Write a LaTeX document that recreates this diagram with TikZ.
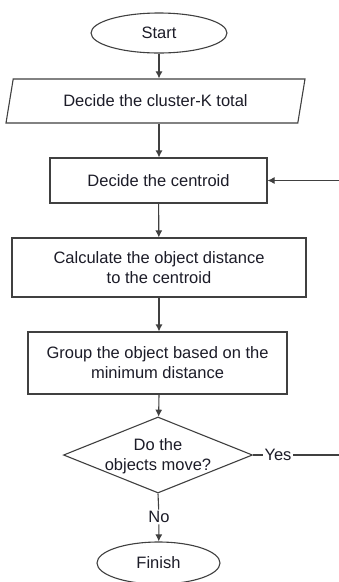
\documentclass[tikz,border=0pt]{standalone}
\usepackage{fontspec}
\setmainfont{Liberation Sans}
\usetikzlibrary{shapes.geometric,arrows.meta}
\definecolor{linegray}{HTML}{404040}
\definecolor{textdark}{HTML}{1C1C28}

\begin{document}
\begin{tikzpicture}[x=1pt, y=-1pt,
  every node/.style={text=textdark, font=\fontsize{16.5}{20}\selectfont},
  flow/.style={draw=linegray, line width=1.1pt},
  arr/.style={flow, -{Latex[length=7pt,width=7pt]}},
  flowbox/.style={flow, rectangle, align=center},
  terminal/.style={flow, ellipse, inner sep=0pt},
  label/.style={fill=white, inner sep=1.5pt}]
  \useasboundingbox[fill=white] (0,0) rectangle (338,582);

  % main column
  \node[terminal, minimum width=136pt, minimum height=40pt] (start) at (159,33) {Start};
  \node[flow, trapezium, trapezium left angle=69, trapezium right angle=111,
        trapezium stretches body, minimum width=299pt, minimum height=44pt]
        (total) at (155.5,101) {Decide the cluster-K total};
  \node[flowbox, minimum width=217pt, minimum height=45pt] (centroid) at (158.5,180.5) {Decide the centroid};
  \node[flowbox, minimum width=294pt, minimum height=59pt] (dist) at (159,267.5)
        {Calculate the object distance\\to the centroid};
  \node[flowbox, minimum width=259pt, minimum height=62pt] (group) at (157.5,363)
        {Group the object based on the\\minimum distance};
  \node[flow, diamond, inner sep=0pt, minimum width=189pt, minimum height=76pt] (move) at (158,455) {};
  \node[align=center] (moveq) at (158,456) {Do the\\objects move?};
  \node[terminal, minimum width=123pt, minimum height=42pt] (finish) at (158.5,563) {Finish};

  \draw[arr] (start.south) -- (start.south |- total.north);
  \draw[arr] (start.south |- total.south) -- (start.south |- centroid.north);
  \draw[arr] (centroid) -- (dist);
  \draw[arr] (start.south |- dist.south) -- (start.south |- group.north);
  \draw[arr] (start.south |- group.south) -- (move);

  % exits of the test
  \node[label] (no) at (159,517) {No};
  \draw[flow] (move.south) -- (no);
  \draw[arr] (no) -- (finish);

  \node[label] (yes) at (278,455) {Yes};
  \coordinate (loop) at (346,455);
  \draw[flow] (move.east) -- (yes);
  \draw[arr] (yes) -- (loop) |- (centroid.east);
\end{tikzpicture}
\end{document}
